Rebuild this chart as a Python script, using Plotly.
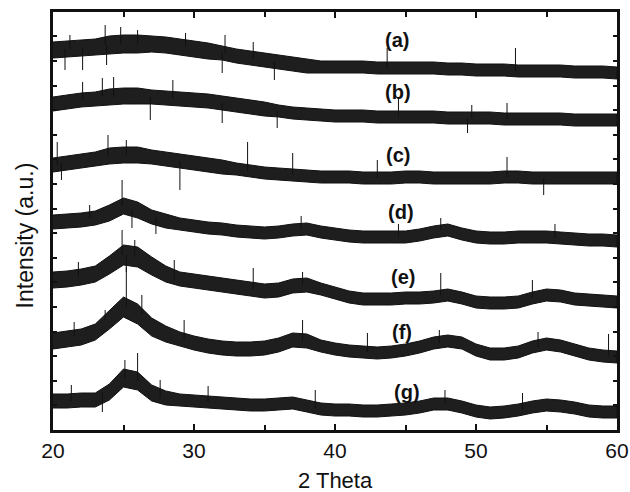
import plotly.graph_objects as go

# 2-theta grid (degrees)
two_theta = list(range(20, 61))

# Baseline (centre of noisy band) intensity, a.u.
center_a = [380,381,382,383,385,386,386,386,385,383,381,379,377,374,372,370,368,366,364,363,363,363,363,362,362,362,362,362,361,361,360,360,360,359,359,359,359,358,358,358,357]
center_b = [326,328,330,331,333,334,334,333,332,331,330,329,327,325,323,321,319,317,316,315,314,314,314,313,313,313,313,313,312,312,312,312,311,311,311,311,311,310,310,310,310]
center_c = [265,267,269,271,274,275,275,273,271,269,267,265,263,261,259,257,256,255,254,253,253,253,252,252,252,253,253,252,252,252,252,252,253,253,252,252,252,252,252,252,252]
center_d = [208,209,210,212,217,224,220,213,209,206,204,202,201,199,198,197,198,200,201,198,196,194,193,193,193,193,195,198,200,196,193,192,192,193,193,193,192,191,190,190,189]
center_e = [150,151,153,156,165,175,173,164,156,151,149,147,145,143,141,139,140,144,145,141,137,133,131,131,131,132,132,133,135,132,128,127,127,128,132,135,134,131,130,129,128]
center_f = [89,91,93,98,110,123,116,103,96,91,87,84,82,81,81,82,85,90,89,84,81,79,78,77,78,80,83,87,89,87,80,76,76,78,83,86,84,80,76,74,73]
center_g = [29,29,30,30,38,52,49,37,32,30,29,28,27,26,25,25,26,27,24,21,20,20,19,19,20,21,23,26,26,23,19,17,18,20,23,25,24,22,19,18,18]

# Half-thickness of the noise band, a.u.
spread_a = [8,8,8,8,9,9,9,8,8,8,8,8,7,7,7,7,7,7,7,6,6,6,6,6,6,6,6,6,6,6,6,6,6,6,6,6,6,6,6,6,6]
spread_b = [7,7,7,7,8,8,8,7,7,7,7,7,7,7,7,7,6,6,6,6,6,6,6,6,6,6,6,6,6,6,6,6,6,6,6,6,6,6,6,6,6]
spread_c = [7,7,7,7,8,8,8,7,7,7,7,7,7,6,6,6,6,6,6,6,6,6,6,6,6,6,6,6,6,6,6,6,6,6,6,6,6,6,6,6,6]
spread_d = [7,7,7,7,8,8,8,7,7,6,6,6,6,6,6,6,6,6,6,6,6,6,6,6,6,6,6,6,6,6,6,6,6,6,6,6,6,6,6,6,6]
spread_e = [8,8,8,8,9,10,10,9,8,7,7,7,7,7,7,7,7,7,7,6,6,6,6,6,6,6,6,6,6,6,6,6,6,6,6,6,6,6,6,6,6]
spread_f = [8,8,8,8,9,10,10,9,8,7,7,7,7,7,7,7,7,7,7,6,6,6,6,6,6,6,6,6,6,6,6,6,6,6,6,6,6,6,6,6,6]
spread_g = [7,7,7,7,8,9,9,8,7,6,6,6,6,6,6,6,6,6,6,6,6,6,6,6,6,6,6,6,6,6,6,6,6,6,6,6,6,6,6,6,6]

# Prominent noise spikes: position (deg) and tip intensity
spike_x_a = [20.85, 21.2, 22.1, 23.7, 23.8, 24.8, 26.0, 29.4, 32.0, 32.2, 34.2, 35.7, 43.7, 52.8]
spike_y_a = [360, 395, 360, 405, 365, 403, 400, 397, 357, 395, 388, 350, 382, 382]
spike_x_b = [22.1, 23.5, 24.3, 26.9, 28.5, 32.0, 35.9, 44.5, 49.4, 49.7, 52.2]
spike_y_b = [348, 352, 353, 310, 350, 307, 302, 332, 297, 325, 327]
spike_x_c = [20.3, 20.6, 23.9, 25.2, 29.0, 33.8, 37.0, 43.0, 52.2, 54.8]
spike_y_c = [288, 250, 295, 290, 240, 288, 277, 270, 273, 235]
spike_x_d = [22.6, 24.9, 25.6, 27.3, 37.6, 44.5, 47.5, 55.6]
spike_y_d = [225, 250, 202, 196, 214, 206, 212, 206]
spike_x_e = [21.8, 24.9, 25.2, 25.8, 28.6, 34.2, 37.7, 47.5, 54.0]
spike_y_e = [168, 200, 158, 190, 170, 162, 158, 157, 150]
spike_x_f = [21.5, 23.7, 25.2, 26.3, 29.3, 37.7, 42.3, 47.4, 54.4, 59.4]
spike_y_f = [108, 120, 163, 135, 110, 110, 97, 100, 98, 96]
spike_x_g = [21.3, 23.5, 25.1, 26.0, 27.6, 31.0, 38.6, 47.8, 53.3]
spike_y_g = [45, 18, 70, 77, 50, 44, 40, 40, 37]

centers = [center_a, center_b, center_c, center_d, center_e, center_f, center_g]
spreads = [spread_a, spread_b, spread_c, spread_d, spread_e, spread_f, spread_g]
spikes = [(spike_x_a, spike_y_a), (spike_x_b, spike_y_b), (spike_x_c, spike_y_c),
          (spike_x_d, spike_y_d), (spike_x_e, spike_y_e), (spike_x_f, spike_y_f),
          (spike_x_g, spike_y_g)]

labels = ["(a)", "(b)", "(c)", "(d)", "(e)", "(f)", "(g)"]
label_x = [44.4, 44.5, 44.5, 44.7, 44.8, 44.75, 45.1]
label_y = [390, 338, 275, 218, 153, 98, 38]

INK = "#111111"
FONT = "Liberation Sans, Arial"

fig = go.Figure()
for c, s, (sx, sy) in zip(centers, spreads, spikes):
    upper = [ci + si for ci, si in zip(c, s)]
    lower = [ci - si for ci, si in zip(c, s)]
    fig.add_trace(go.Scatter(
        x=two_theta + two_theta[::-1],
        y=upper + lower[::-1],
        mode="lines", fill="toself", fillcolor="#1e1e1e",
        line=dict(color=INK, width=1),
        hoverinfo="skip", showlegend=False))
    xs, ys = [], []
    for px, py in zip(sx, sy):
        base = c[two_theta.index(int(round(px)))]
        xs += [px, px, None]
        ys += [base, py, None]
    fig.add_trace(go.Scatter(x=xs, y=ys, mode="lines", line=dict(color=INK, width=1),
                             hoverinfo="skip", showlegend=False))

for t, lx, ly in zip(labels, label_x, label_y):
    fig.add_annotation(x=lx, y=ly, text="<b>%s</b>" % t, showarrow=False,
                       font=dict(family=FONT, size=20, color=INK))

fig.add_annotation(x=0.5, y=-0.122, xref="paper", yref="paper", text="2 Theta",
                   xanchor="center", yanchor="middle",
                   showarrow=False, font=dict(family=FONT, size=22, color=INK))
fig.add_annotation(x=-0.05, y=0.465, xref="paper", yref="paper", text="Intensity (a.u.)",
                   xanchor="center", yanchor="middle",
                   textangle=-90, showarrow=False,
                   font=dict(family=FONT, size=23, color=INK))

fig.update_layout(
    width=630, height=492,
    margin=dict(l=53, r=13, t=12, b=62),
    paper_bgcolor="white", plot_bgcolor="white",
    font=dict(family=FONT, color=INK),
    xaxis=dict(range=[20, 60], tickvals=[20, 30, 40, 50, 60], ticks="inside", ticklen=6,
               tickwidth=2, tickcolor=INK, showline=True, linewidth=2.5, linecolor=INK,
               mirror="allticks", showgrid=False, zeroline=False, automargin=False,
               tickfont=dict(size=21),
               minor=dict(tickvals=[25, 35, 45, 55], ticks="inside", ticklen=5, tickwidth=2,
                          tickcolor=INK, showgrid=False)),
    yaxis=dict(range=[0, 418], tick0=0, dtick=24.6, ticks="inside", ticklen=4, tickwidth=1.5,
               tickcolor=INK, showticklabels=False, showline=True, linewidth=2.5,
               linecolor=INK, mirror="allticks", showgrid=False, zeroline=False,
               automargin=False),
)

fig.write_html("out.html", config={"displayModeBar": False},
               post_script="document.body.style.margin='0';")
